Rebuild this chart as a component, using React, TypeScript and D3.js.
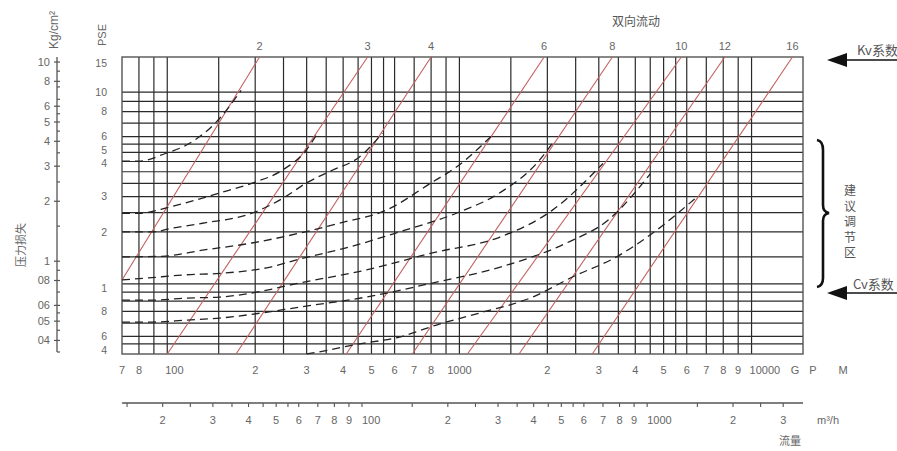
import React from "react";
import * as d3 from "d3";

const W = 897;
const H = 451;

// ---- scales' domains (data units) ----
const gpmDomain = [70, 15000];
const psiDomain = [0.49, 15];
const kgDomain = [0.35, 10.6];
const m3hDomain = [14.4, 3520];

// ---- grid ----
const gpmGrid = [80, 90, 100, 150, 200, 250, 300, 350, 400, 450, 500, 550, 600, 700, 800, 900, 1000, 1500, 2000, 2500, 3000, 3500, 4000, 4500, 5000, 5500, 6000, 7000, 8000, 9000, 10000];
const psiGrid = [10, 9, 8, 7, 6, 5.5, 5, 4.5, 4, 3.5, 3, 2.5, 2, 1.5, 1.1, 1, 0.9, 0.8, 0.7, 0.6, 0.55];

// ---- bottom GPM axis labels ----
const gpmLabelValues = [70, 80, 100, 200, 300, 400, 500, 600, 700, 800, 1000, 2000, 3000, 4000, 5000, 6000, 7000, 8000, 9000, 10000];
const gpmLabelTexts = ["7", "8", "100", "2", "3", "4", "5", "6", "7", "8", "1000", "2", "3", "4", "5", "6", "7", "8", "9", "10000"];

// ---- m3/h axis ----
const m3hTicks = [15, 20, 25, 30, 35, 40, 45, 50, 55, 60, 70, 80, 90, 100, 150, 200, 250, 300, 350, 400, 450, 500, 550, 600, 700, 800, 900, 1000, 1500, 2000, 2500, 3000];
const m3hLabelValues = [20, 30, 40, 50, 60, 70, 80, 90, 100, 200, 300, 400, 500, 600, 700, 800, 900, 1000, 2000, 3000];
const m3hLabelTexts = ["2", "3", "4", "5", "6", "7", "8", "9", "100", "2", "3", "4", "5", "6", "7", "8", "9", "1000", "2", "3"];

// ---- PSE (inner) axis labels ----
const psiLabelTexts = ["15", "10", "8", "6", "5", "4", "3", "2", "1", "8", "6", "4"];
const psiLabelAt = [14, 10, 8, 6, 5.1, 4.4, 3, 2, 1.05, 0.8, 0.6, 0.51];

// ---- Kg/cm2 (outer) axis ----
const kgLabelValues = [10, 8, 6, 5, 4, 3, 2, 1, 0.8, 0.6, 0.5, 0.4];
const kgLabelTexts = ["10", "8", "6", "5", "4", "3", "2", "1", "08", "06", "05", "04"];
const kgMinorTicks = [9, 7.5, 6.5, 5.5, 4.5, 3.5, 2.5, 1.5, 0.9, 0.7, 0.55, 0.45, 0.35];

// ---- valve size lines (red): [gpm, psi] at low and high end ----
const valveSizes = ["2", "3", "4", "6", "8", "10", "12", "16"];
const valveLowQ = [70, 100, 172, 410, 690, 1065, 1600, 2850];
const valveLowP = [1.15, 0.49, 0.49, 0.49, 0.49, 0.49, 0.49, 0.49];
const valveHighQ = [207, 485, 800, 1950, 3340, 5750, 8100, 13800];
const valveHighP = [15, 15, 15, 15, 15, 15, 15, 15];

// ---- dashed curves: [gpm, psi] ----
const curveA = [[70, 4.52], [80, 4.52], [99, 4.95], [116, 5.43], [147, 7.08], [179, 10.2]];
const curveB = [[70, 2.48], [80, 2.48], [101.6, 2.66], [150.7, 3.13], [195.4, 3.51], [247.6, 4.07], [299, 5.13], [324, 6.1]];
const curveC = [[70, 2.0], [89, 2.0], [104, 2.09], [132, 2.21], [195, 2.48], [252, 2.98], [299, 3.51], [367, 4.07], [454, 4.73], [545, 6.24]];
const curveD = [[70, 1.5], [96, 1.51], [132, 1.62], [195, 1.76], [283, 1.97], [388, 2.21], [562, 2.57], [808, 3.55], [976, 4.22], [1297, 6.1]];
const curveE = [[70, 1.15], [85, 1.175], [116, 1.22], [151, 1.24], [223, 1.33], [283, 1.46], [420, 1.68], [623, 2.0], [976, 2.48], [1371, 3.13], [1879, 4.57], [2082, 5.56]];
const curveF = [[70, 0.912], [89, 0.912], [116, 0.933], [151, 0.944], [195, 0.989], [283, 1.11], [480, 1.29], [808, 1.57], [1371, 1.88], [2082, 2.57], [3100, 4.4]];
const curveG = [[70, 0.708], [89, 0.708], [116, 0.724], [151, 0.741], [209, 0.785], [283, 0.841], [480, 0.944], [808, 1.11], [1371, 1.33], [2325, 1.76], [3240, 2.3], [4500, 3.9]];
const curveH = [[300, 0.49], [358, 0.513], [430, 0.543], [623, 0.596], [854, 0.692], [1171, 0.785], [1781, 0.944], [2438, 1.19], [3449, 1.5], [4581, 1.97], [6480, 2.98]];
const dashedCurves = [curveA, curveB, curveC, curveD, curveE, curveF, curveG, curveH];

const LAT = "'Liberation Sans', Arial, sans-serif";
const CJK = "'Noto Sans CJK SC', sans-serif";
const TXT = "#666";
const GRID = "#2a2a2a";
const RED = "#c46060";

export default function App() {
  const left = 122, right = 803, top = 57, bottom = 354;
  const x = d3.scaleLog().domain(gpmDomain).range([left, right]);
  const y = d3.scaleLog().domain(psiDomain).range([bottom, top]);
  const yKg = d3.scaleLog().domain(kgDomain).range([352, 57]);
  const xM = d3.scaleLog().domain(m3hDomain).range([left, right]);

  const line = d3
    .line<number[]>()
    .x((d) => x(d[0]))
    .y((d) => y(d[1]))
    .curve(d3.curveMonotoneX);

  const kgX = 57;
  const m3Y = 403;

  return (
    <svg width={W} height={H} style={{ position: "absolute", left: 0, top: 0, background: "#fff" }}>
      {/* grid */}
      <g stroke={GRID} strokeWidth={1.2}>
        {gpmGrid.map((v, i) => (
          <line key={"v" + i} x1={x(v)} x2={x(v)} y1={top} y2={bottom} />
        ))}
        {psiGrid.map((v, i) => (
          <line key={"h" + i} x1={left} x2={right} y1={y(v)} y2={y(v)} />
        ))}
      </g>
      <rect x={left} y={top} width={right - left} height={bottom - top} fill="none" stroke="#555" strokeWidth={1.4} />

      {/* red valve lines */}
      <g stroke={RED} strokeWidth={1.1}>
        {valveSizes.map((s, i) => (
          <line key={"r" + i} x1={x(valveLowQ[i])} y1={y(valveLowP[i])} x2={x(valveHighQ[i])} y2={y(valveHighP[i])} />
        ))}
      </g>

      {/* dashed curves */}
      <g fill="none" stroke="#222" strokeWidth={1.3} strokeDasharray="8,5">
        {dashedCurves.map((c, i) => (
          <path key={"c" + i} d={line(c) || ""} />
        ))}
      </g>

      {/* valve size labels on top */}
      <g fontFamily={LAT} fontSize={11} fill={TXT} textAnchor="middle">
        {valveSizes.map((s, i) => (
          <text key={"vl" + i} x={x(valveHighQ[i])} y={50}>{s}</text>
        ))}
      </g>
      <text x={636} y={26} fontFamily={CJK} fontSize={12} fill="#555" textAnchor="middle">双向流动</text>

      {/* PSE inner axis labels */}
      <g fontFamily={LAT} fontSize={10.5} fill={TXT} textAnchor="end">
        {psiLabelTexts.map((t, i) => (
          <text key={"pl" + i} x={107} y={y(psiLabelAt[i])} dy="0.35em">{t}</text>
        ))}
      </g>
      <text transform="translate(106,35) rotate(-90)" fontFamily={LAT} fontSize={11} fill={TXT} textAnchor="middle">PSE</text>

      {/* Kg/cm2 outer axis */}
      <line x1={kgX} x2={kgX} y1={57} y2={352} stroke="#555" strokeWidth={1.3} />
      <g stroke="#555" strokeWidth={1.2}>
        {kgLabelValues.map((v, i) => (
          <line key={"kt" + i} x1={kgX - 3} x2={kgX + 3} y1={yKg(v)} y2={yKg(v)} />
        ))}
        {kgMinorTicks.map((v, i) => (
          <line key={"km" + i} x1={kgX} x2={kgX + 3} y1={yKg(v)} y2={yKg(v)} />
        ))}
      </g>
      <g fontFamily={LAT} fontSize={11} fill={TXT} textAnchor="end">
        {kgLabelTexts.map((t, i) => (
          <text key={"kl" + i} x={50} y={yKg(kgLabelValues[i])} dy="0.35em">{t}</text>
        ))}
      </g>
      <text transform="translate(58,30) rotate(-90)" fontFamily={LAT} fontSize={12} fill={TXT} textAnchor="middle">Kg/cm²</text>
      <text transform="translate(25,245) rotate(-90)" fontFamily={CJK} fontSize={11} fill={TXT} textAnchor="middle">压力损失</text>

      {/* bottom GPM labels */}
      <g fontFamily={LAT} fontSize={11} fill={TXT}>
        {gpmLabelTexts.map((t, i) => {
          const v = gpmLabelValues[i];
          const anchor = t === "100" || t === "10000" ? "start" : "middle";
          return (
            <text key={"gl" + i} x={x(v) + (anchor === "start" ? -2 : 0)} y={374} textAnchor={anchor}>{t}</text>
          );
        })}
        <text x={795} y={374} textAnchor="middle">G</text>
        <text x={813} y={374} textAnchor="middle">P</text>
        <text x={843} y={374} textAnchor="middle">M</text>
      </g>

      {/* m3/h axis */}
      <line x1={left} x2={right} y1={m3Y} y2={m3Y} stroke="#555" strokeWidth={1.3} />
      <g stroke="#555" strokeWidth={1.1}>
        {m3hTicks.map((v, i) => (
          <line key={"mt" + i} x1={xM(v)} x2={xM(v)} y1={m3Y} y2={m3Y + 4} />
        ))}
      </g>
      <g fontFamily={LAT} fontSize={11} fill={TXT}>
        {m3hLabelTexts.map((t, i) => {
          const v = m3hLabelValues[i];
          const anchor = t.length > 1 ? "start" : "middle";
          return (
            <text key={"ml" + i} x={xM(v)} y={424} textAnchor={anchor}>{t}</text>
          );
        })}
        <text x={817} y={424}>m³/h</text>
      </g>
      <text x={790} y={445} fontFamily={CJK} fontSize={11} fill={TXT} textAnchor="middle">流量</text>

      {/* right annotations */}
      <polygon points="827,60 847,53 847,67" fill="#111" />
      <line x1={845} x2={897} y1={60} y2={60} stroke="#111" strokeWidth={1.4} />
      <text x={857} y={55} fontFamily={CJK} fontSize={13} fill="#555">Kv系数</text>

      <polygon points="827,293 847,286 847,300" fill="#111" />
      <line x1={845} x2={897} y1={293} y2={293} stroke="#111" strokeWidth={1.4} />
      <text x={853} y={289} fontFamily={CJK} fontSize={13} fill="#555">Cv系数</text>

      <path d="M817,140 Q823,141 823,150 L823,205 Q823,212 829,213 Q823,214 823,221 L823,278 Q823,286 817,287" fill="none" stroke="#111" strokeWidth={2.6} />
      <g fontFamily={CJK} fontSize={12} fill="#555" textAnchor="middle">
        {["建", "议", "调", "节", "区"].map((c, i) => (
          <text key={"z" + i} x={850} y={195 + i * 15.5}>{c}</text>
        ))}
      </g>
    </svg>
  );
}
